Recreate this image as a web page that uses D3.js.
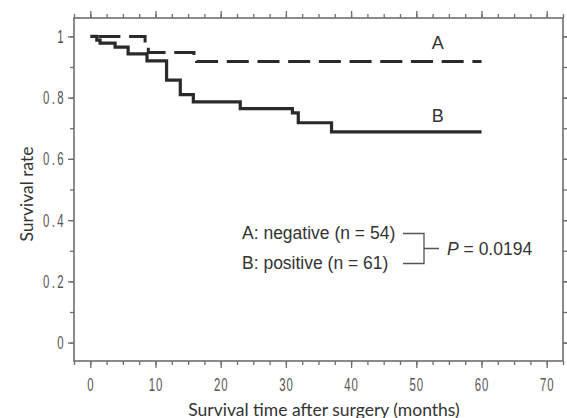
<!DOCTYPE html>
<html>
<head>
<meta charset="utf-8">
<script src="https://cdn.jsdelivr.net/npm/d3@7/dist/d3.min.js"></script>
<style>
  html, body { margin: 0; padding: 0; background: #fff; }
  svg { display: block; }
</style>
</head>
<body>
<svg id="chart" width="567" height="418"></svg>
<script>
// Kaplan-Meier curves, values
var timesA = [0, 8.4, 8.9, 15.9, 16.3];
var survA  = [1.0, 0.975, 0.947, 0.933, 0.918];
var timesB = [0, 1.0, 1.5, 3.8, 5.8, 8.7, 11.7, 13.8, 15.8, 23.0, 31.0, 31.9, 37.0];
var survB  = [1.0, 0.988, 0.978, 0.965, 0.943, 0.92, 0.857, 0.81, 0.786, 0.764, 0.75, 0.718, 0.688];
var followUpEnd = 60;

var xMajor = [0, 10, 20, 30, 40, 50, 60, 70];
var yMajor = [0, 0.2, 0.4, 0.6, 0.8, 1];
var xMinor = d3.range(-2.5, 72.6, 2.5);
var yMinor = d3.range(0, 1.01, 0.1);

var legendA = 'A: negative (n = 54)';
var legendB = 'B: positive (n = 61)';
var pText = '= 0.0194';

var box = { left: 74, top: 18, right: 563, bottom: 361 };
var svg = d3.select('#chart');

var x = d3.scaleLinear().domain([-2.5, 72.5]).range([box.left, box.right]);
var y = d3.scaleLinear().domain([-0.06, 1.06]).range([box.bottom, box.top]);

var axisColor = '#6e6e6e';
var labelFont = '"Liberation Sans", Arial, sans-serif';
var SQ = 0.6; // narrow tick digits

function styleAxis(g) {
    g.select('.domain').remove();
    g.selectAll('.tick line').attr('stroke', axisColor).attr('stroke-width', 1.3);
}

// minor ticks
svg.append('g').attr('transform', 'translate(0,' + box.bottom + ')')
    .call(d3.axisBottom(x).tickValues(xMinor).tickSize(4).tickFormat(''))
    .call(styleAxis);
svg.append('g').attr('transform', 'translate(0,' + box.top + ')')
    .call(d3.axisTop(x).tickValues(xMinor).tickSize(4).tickFormat(''))
    .call(styleAxis);
svg.append('g').attr('transform', 'translate(' + box.left + ',0)')
    .call(d3.axisLeft(y).tickValues(yMinor).tickSize(4).tickFormat(''))
    .call(styleAxis);
svg.append('g').attr('transform', 'translate(' + box.right + ',0)')
    .call(d3.axisRight(y).tickValues(yMinor).tickSize(4).tickFormat(''))
    .call(styleAxis);

// major ticks + labels
var gxb = svg.append('g').attr('transform', 'translate(0,' + box.bottom + ')')
    .call(d3.axisBottom(x).tickValues(xMajor).tickSize(7).tickPadding(10))
    .call(styleAxis);
gxb.selectAll('.tick text')
    .attr('font-family', labelFont).attr('font-size', 19).attr('fill', '#555')
    .attr('letter-spacing', 1.5)
    .attr('transform', 'scale(' + SQ + ',1)');

svg.append('g').attr('transform', 'translate(0,' + box.top + ')')
    .call(d3.axisTop(x).tickValues(xMajor).tickSize(7).tickFormat(''))
    .call(styleAxis);

var gyl = svg.append('g').attr('transform', 'translate(' + box.left + ',0)')
    .call(d3.axisLeft(y).tickValues(yMajor).tickSize(6)
        .tickFormat(function (d) { return (d === 0 || d === 1) ? String(d) : d.toFixed(1); }))
    .call(styleAxis);
gyl.selectAll('.tick text')
    .attr('font-family', labelFont).attr('font-size', 19).attr('fill', '#555')
    .attr('letter-spacing', 4)
    .attr('x', -8 / SQ)
    .attr('transform', 'scale(' + SQ + ',1)');

svg.append('g').attr('transform', 'translate(' + box.right + ',0)')
    .call(d3.axisRight(y).tickValues(yMajor).tickSize(6).tickFormat(''))
    .call(styleAxis);

// frame
svg.append('rect')
    .attr('x', box.left).attr('y', box.top)
    .attr('width', box.right - box.left).attr('height', box.bottom - box.top)
    .attr('fill', 'none').attr('stroke', axisColor).attr('stroke-width', 1.6);

// curves
function series(ts, ss) {
    var pts = ts.map(function (t, i) { return [t, ss[i]]; });
    pts.push([followUpEnd, ss[ss.length - 1]]);
    return pts;
}
var line = d3.line()
    .x(function (d) { return x(d[0]); })
    .y(function (d) { return y(d[1]); })
    .curve(d3.curveStepAfter);

svg.append('path')
    .attr('d', line(series(timesA, survA)))
    .attr('fill', 'none').attr('stroke', '#2a2a2a').attr('stroke-width', 3)
    .attr('stroke-dasharray', '22,8.7').attr('stroke-dashoffset', 22.6);

svg.append('path')
    .attr('d', line(series(timesB, survB)))
    .attr('fill', 'none').attr('stroke', '#2a2a2a').attr('stroke-width', 3.2);

// curve labels
svg.append('text').attr('x', x(53.3)).attr('y', y(0.98)).attr('dy', '0.36em')
    .attr('text-anchor', 'middle').attr('font-family', labelFont)
    .attr('font-size', 18).attr('fill', '#333').text('A');
svg.append('text').attr('x', x(53.3)).attr('y', y(0.74)).attr('dy', '0.36em')
    .attr('text-anchor', 'middle').attr('font-family', labelFont)
    .attr('font-size', 18).attr('fill', '#333').text('B');

// legend + log-rank bracket
var lg = svg.append('g').attr('font-family', labelFont).attr('font-size', 17.5).attr('fill', '#333');
lg.append('text').attr('x', 242).attr('y', 239).text(legendA);
lg.append('text').attr('x', 242).attr('y', 269).text(legendB);

svg.append('path')
    .attr('d', 'M403,233.5H424V263.5H403M424,248.5H439')
    .attr('fill', 'none').attr('stroke', '#555').attr('stroke-width', 1.3);

var pt = lg.append('text').attr('x', 447).attr('y', 255);
pt.append('tspan').attr('font-style', 'italic').text('P');
pt.append('tspan').text(' ' + pText);

// axis titles
var titleFont = 'Lato, "Open Sans", sans-serif';
svg.append('text').attr('x', 324).attr('y', 415.5)
    .attr('text-anchor', 'middle').attr('font-family', titleFont)
    .attr('font-size', 17.5).attr('fill', '#333')
    .text('Survival time after surgery (months)');
svg.append('text')
    .attr('transform', 'translate(32.5,194) rotate(-90)')
    .attr('text-anchor', 'middle').attr('font-family', titleFont)
    .attr('font-size', 17.5).attr('fill', '#333')
    .text('Survival rate');
</script>
</body>
</html>
